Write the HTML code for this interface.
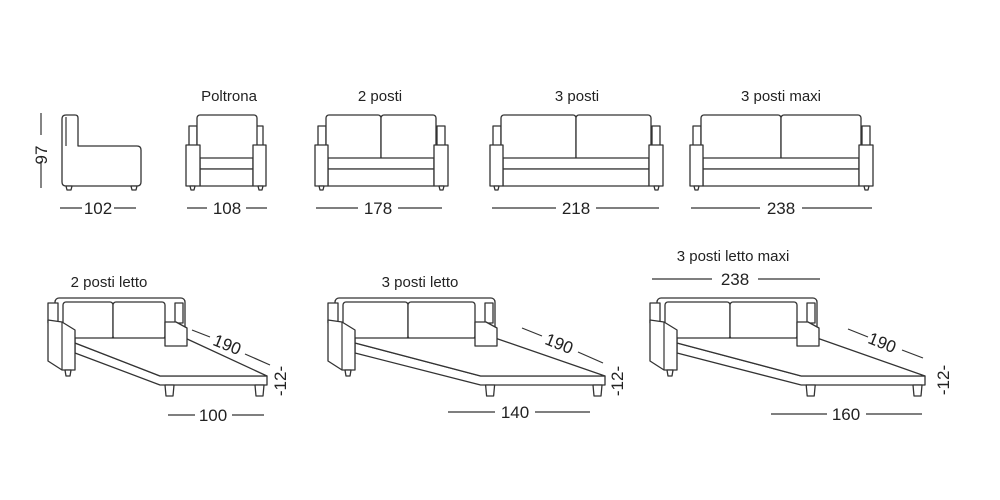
<!DOCTYPE html>
<html><head><meta charset="utf-8"><style>
html,body{margin:0;padding:0;background:#fff;width:1000px;height:500px;overflow:hidden}
svg{display:block}
text{font-family:"Liberation Sans",Arial,sans-serif;fill:#222}
.s{fill:#fff;stroke:#333;stroke-width:1.3;stroke-linejoin:round}
.l{stroke:#333;stroke-width:1.2;fill:none}
</style></head><body>
<svg id="sv" width="1000" height="500" viewBox="0 0 1000 500">
<!-- Side view -->
<path class="s" d="M62,119 Q62,115 66,115 L75,115 Q78,115 78,118 L78,146 L137,146 Q141,146 141,150 L141,182 Q141,186 137,186 L66,186 Q62,186 62,182 Z"/>
<line class="l" x1="66" y1="117" x2="66" y2="146"/>
<path class="s" d="M66,186 L72,186 L71,190 L67,190 Z M131,186 L137,186 L136,190 L132,190 Z"/>
<line class="l" x1="41" y1="113" x2="41" y2="135"/><line class="l" x1="41" y1="161" x2="41" y2="188"/>
<text x="0" y="0" font-size="17" text-anchor="middle" transform="translate(47,155) rotate(-90)">97</text>
<line class="l" x1="60" y1="208" x2="82" y2="208"/><line class="l" x1="114" y1="208" x2="136" y2="208"/>
<text x="98" y="214" font-size="17" text-anchor="middle">102</text>

<!-- Poltrona -->
<text x="229" y="101" font-size="15" text-anchor="middle">Poltrona</text>
<rect class="s" x="189" y="126" width="8" height="20"/><rect class="s" x="255" y="126" width="8" height="20"/>
<rect class="s" x="197" y="115" width="60" height="45" rx="3"/>
<rect class="s" x="200" y="158" width="53" height="11"/><rect class="s" x="200" y="169" width="53" height="17"/>
<rect class="s" x="186" y="145" width="14" height="41"/><rect class="s" x="253" y="145" width="13" height="41"/>
<path class="s" d="M190,186 L195,186 L194,190 L191,190 Z M258,186 L263,186 L262,190 L259,190 Z"/>
<line class="l" x1="187" y1="208" x2="207" y2="208"/><line class="l" x1="246" y1="208" x2="267" y2="208"/>
<text x="227" y="214" font-size="17" text-anchor="middle">108</text>

<!-- 2 posti -->
<text x="380" y="101" font-size="15" text-anchor="middle">2 posti</text>
<rect class="s" x="318" y="126" width="8" height="20"/><rect class="s" x="437" y="126" width="8" height="20"/>
<rect class="s" x="326" y="115" width="55" height="45" rx="3"/><rect class="s" x="381" y="115" width="55" height="45" rx="3"/>
<rect class="s" x="328" y="158" width="106" height="11"/><rect class="s" x="328" y="169" width="106" height="17"/>
<rect class="s" x="315" y="145" width="13" height="41"/><rect class="s" x="434" y="145" width="14" height="41"/>
<path class="s" d="M319,186 L324,186 L323,190 L320,190 Z M439,186 L444,186 L443,190 L440,190 Z"/>
<line class="l" x1="316" y1="208" x2="358" y2="208"/><line class="l" x1="398" y1="208" x2="442" y2="208"/>
<text x="378" y="214" font-size="17" text-anchor="middle">178</text>

<!-- 3 posti -->
<text x="577" y="101" font-size="15" text-anchor="middle">3 posti</text>
<rect class="s" x="493" y="126" width="8" height="20"/><rect class="s" x="652" y="126" width="8" height="20"/>
<rect class="s" x="501" y="115" width="75" height="45" rx="3"/><rect class="s" x="576" y="115" width="75" height="45" rx="3"/>
<rect class="s" x="503" y="158" width="146" height="11"/><rect class="s" x="503" y="169" width="146" height="17"/>
<rect class="s" x="490" y="145" width="13" height="41"/><rect class="s" x="649" y="145" width="14" height="41"/>
<path class="s" d="M494,186 L499,186 L498,190 L495,190 Z M654,186 L659,186 L658,190 L655,190 Z"/>
<line class="l" x1="492" y1="208" x2="556" y2="208"/><line class="l" x1="596" y1="208" x2="659" y2="208"/>
<text x="576" y="214" font-size="17" text-anchor="middle">218</text>

<!-- 3 posti maxi -->
<text x="781" y="101" font-size="15" text-anchor="middle">3 posti maxi</text>
<rect class="s" x="693" y="126" width="8" height="20"/><rect class="s" x="862" y="126" width="8" height="20"/>
<rect class="s" x="701" y="115" width="80" height="45" rx="3"/><rect class="s" x="781" y="115" width="80" height="45" rx="3"/>
<rect class="s" x="703" y="158" width="156" height="11"/><rect class="s" x="703" y="169" width="156" height="17"/>
<rect class="s" x="690" y="145" width="13" height="41"/><rect class="s" x="859" y="145" width="14" height="41"/>
<path class="s" d="M694,186 L699,186 L698,190 L695,190 Z M864,186 L869,186 L868,190 L865,190 Z"/>
<line class="l" x1="691" y1="208" x2="760" y2="208"/><line class="l" x1="802" y1="208" x2="872" y2="208"/>
<text x="781" y="214" font-size="17" text-anchor="middle">238</text>

<!-- bed labels -->
<text x="109" y="287" font-size="15" text-anchor="middle">2 posti letto</text>
<text x="420" y="287" font-size="15" text-anchor="middle">3 posti letto</text>
<text x="733" y="261" font-size="15" text-anchor="middle">3 posti letto maxi</text>
<line class="l" x1="652" y1="279" x2="712" y2="279"/><line class="l" x1="758" y1="279" x2="820" y2="279"/>
<text x="735" y="285" font-size="17" text-anchor="middle">238</text>

<g id="beds"></g>

<!-- bed dims -->
<text font-size="17" text-anchor="middle" transform="translate(225,350) rotate(22)">190</text>
<line class="l" x1="192" y1="330" x2="210" y2="337"/><line class="l" x1="245" y1="354" x2="270" y2="365"/>
<text font-size="17" text-anchor="middle" transform="translate(286,381) rotate(-90)">-12-</text>
<line class="l" x1="168" y1="415" x2="195" y2="415"/><line class="l" x1="232" y1="415" x2="264" y2="415"/>
<text x="213" y="421" font-size="17" text-anchor="middle">100</text>

<text font-size="17" text-anchor="middle" transform="translate(557,349) rotate(22)">190</text>
<line class="l" x1="522" y1="328" x2="542" y2="336"/><line class="l" x1="578" y1="352" x2="603" y2="363"/>
<text font-size="17" text-anchor="middle" transform="translate(623,381) rotate(-90)">-12-</text>
<line class="l" x1="448" y1="412" x2="495" y2="412"/><line class="l" x1="535" y1="412" x2="590" y2="412"/>
<text x="515" y="418" font-size="17" text-anchor="middle">140</text>

<text font-size="17" text-anchor="middle" transform="translate(880,348) rotate(22)">190</text>
<line class="l" x1="848" y1="329" x2="868" y2="337"/><line class="l" x1="902" y1="350" x2="923" y2="358"/>
<text font-size="17" text-anchor="middle" transform="translate(949,380) rotate(-90)">-12-</text>
<line class="l" x1="771" y1="414" x2="827" y2="414"/><line class="l" x1="866" y1="414" x2="922" y2="414"/>
<text x="846" y="420" font-size="17" text-anchor="middle">160</text>
</svg>
<script>
function bed(ox,db,dm){
 var fx=112+0.7*dm, tx=219+dm;
 return '<g transform="translate('+ox+',0)">'+
 '<rect class="s" x="7" y="298" width="'+(130+db)+'" height="42" rx="4"/>'+
 '<rect class="s" x="15" y="302" width="'+(50+db/2)+'" height="37" rx="3"/>'+
 '<rect class="s" x="'+(65+db/2)+'" y="302" width="'+(52+db/2)+'" height="37" rx="3"/>'+
 '<rect class="s" x="0" y="303" width="10" height="20"/>'+
 '<rect class="s" x="'+(127+db)+'" y="303" width="8" height="20"/>'+
 '<path class="s" d="M27,343 L'+fx+',376 L'+tx+',376 L'+tx+',385 L'+fx+',385 L27,353 Z"/>'+
 '<path class="s" d="M27,338 L'+(137+db)+',338 L'+tx+',376 L'+fx+',376 L27,343 Z"/>'+
 '<path class="s" d="M'+(fx+5)+',385 L'+(fx+14)+',385 L'+(fx+13)+',396 L'+(fx+6)+',396 Z"/>'+
 '<path class="s" d="M'+(tx-12)+',385 L'+(tx-3)+',385 L'+(tx-4)+',396 L'+(tx-11)+',396 Z"/>'+
 '<path class="s" d="M0,320 L14,322 L27,330 L27,370 L14,370 L0,361 Z"/><line class="l" x1="14" y1="322" x2="14" y2="370"/>'+
 '<path class="s" d="M17,370 L23,370 L22,376 L18,376 Z"/>'+
 '<path class="s" d="M'+(117+db)+',322 L'+(128+db)+',322 L'+(139+db)+',328 L'+(139+db)+',346 L'+(117+db)+',346 Z"/>'+
 '</g>';
}
document.getElementById('beds').innerHTML=bed(48,0,0)+bed(328,30,58)+bed(650,30,56);
</script>
</body></html>
